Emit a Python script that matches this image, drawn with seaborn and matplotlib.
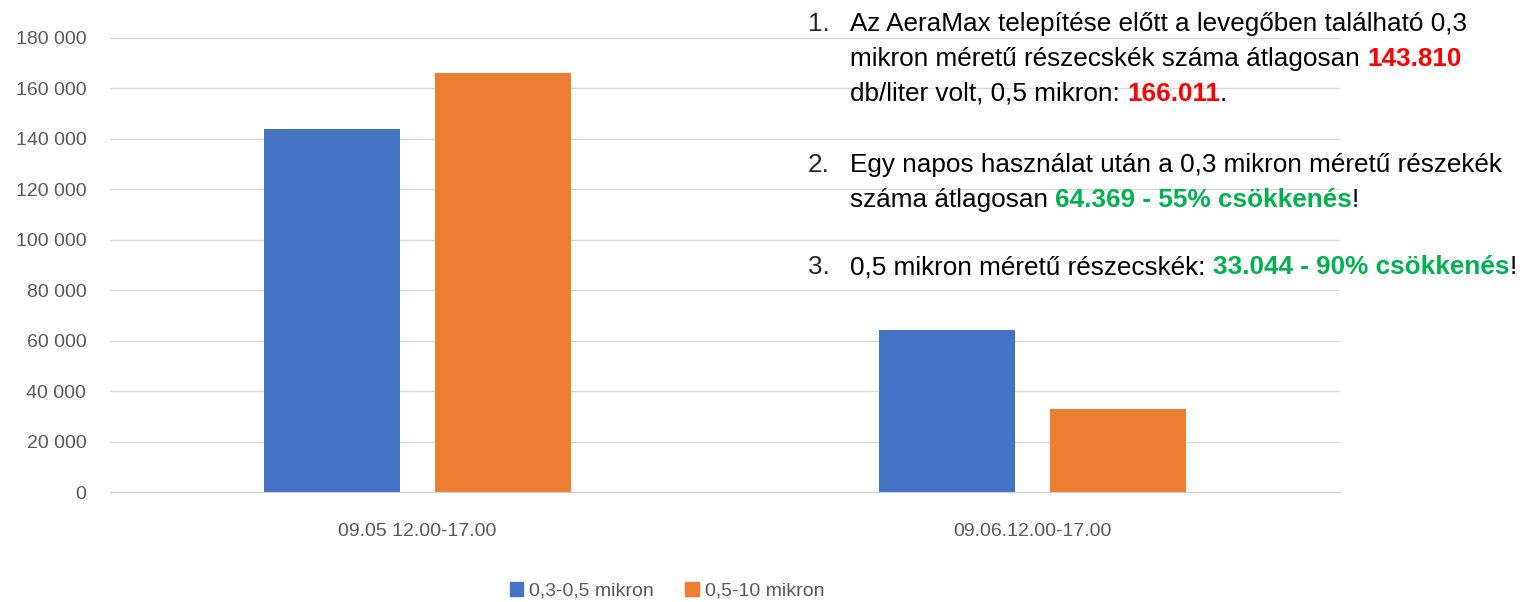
import numpy as np
import pandas as pd
import matplotlib
matplotlib.use("Agg")
import matplotlib.pyplot as plt
from matplotlib.ticker import FuncFormatter
from matplotlib.patches import Patch
import seaborn as sns

# adatok
kategoriak = ["09.05 12.00-17.00", "09.06.12.00-17.00"]
sorozatok = ["0,3-0,5 mikron", "0,5-10 mikron"]
ertek_03 = [143810, 64369]
ertek_05 = [166011, 33044]
szinek = ["#4472C4", "#ED7D31"]

veri = pd.DataFrame({
    "idopont": kategoriak * 2,
    "meret": [sorozatok[0]] * 2 + [sorozatok[1]] * 2,
    "darab": ertek_03 + ertek_05,
})

sns.set_style("white")
plt.rcParams["font.family"] = ["Liberation Sans", "DejaVu Sans"]
szurke = "#595959"

fig = plt.figure(figsize=(15.23, 6.02), dpi=100)
ax = fig.add_axes([0.0722, 0.1827, 0.8077, 0.7542])

sns.barplot(data=veri, x="idopont", y="darab", hue="meret",
            palette=szinek, saturation=1, width=0.556, gap=0.2,
            linewidth=0, ax=ax, legend=False)

ax.set_ylim(0, 180000)
ax.set_yticks(np.arange(0, 180001, 20000))
ax.yaxis.set_major_formatter(FuncFormatter(lambda v, p: f"{int(v):,}".replace(",", " ")))
ax.grid(axis="y", color="#D9D9D9", linewidth=1)
ax.set_axisbelow(True)
for s in ["top", "right", "left"]:
    ax.spines[s].set_visible(False)
ax.spines["bottom"].set_color("#D0D0D0")
ax.tick_params(axis="both", length=0, labelsize=14, colors=szurke)
ax.tick_params(axis="y", pad=17)
ax.tick_params(axis="x", pad=22)
ax.set_xlabel("")
ax.set_ylabel("")

fig.legend(handles=[Patch(color=szinek[0], label=sorozatok[0]),
                    Patch(color=szinek[1], label=sorozatok[1])],
           loc="center", bbox_to_anchor=(667 / 1523, 1 - 591 / 602), ncol=2,
           frameon=False, fontsize=14, labelcolor=szurke,
           handlelength=0.7, handleheight=0.7, handletextpad=0.3, columnspacing=1.6)

# szöveg jobbra fent
piros = "#FF0000"
zold = "#00B050"
fekete = "black"
sorok = [
    ("1.", [("Az AeraMax telepítése előtt a levegőben található 0,3", fekete, "normal")], 22),
    ("", [("mikron méretű részecskék száma átlagosan ", fekete, "normal"),
          ("143.810", piros, "bold")], 57),
    ("", [("db/liter volt, 0,5 mikron: ", fekete, "normal"),
          ("166.011", piros, "bold"), (".", fekete, "normal")], 92),
    ("2.", [("Egy napos használat után a 0,3 mikron méretű részekék", fekete, "normal")], 163),
    ("", [("száma átlagosan ", fekete, "normal"),
          ("64.369 - 55% csökkenés", zold, "bold"), ("!", fekete, "normal")], 198),
    ("3.", [("0,5 mikron méretű részecskék: ", fekete, "normal"),
            ("33.044 - 90% csökkenés", zold, "bold"), ("!", fekete, "normal")], 265),
]
meret = 18.8
for szam, reszek, y in sorok:
    yf = 1 - (y + 14) / 602
    if szam:
        fig.text(808 / 1523, yf, szam, fontsize=meret, va="bottom", ha="left")
    elozo = None
    for szoveg, szin, suly in reszek:
        if elozo is None:
            elozo = fig.text(850 / 1523, yf, szoveg, fontsize=meret, color=szin,
                             weight=suly, va="bottom", ha="left")
        else:
            elozo = ax.annotate(szoveg, xy=(1, 0), xycoords=elozo,
                                fontsize=meret, color=szin, weight=suly,
                                va="bottom", ha="left", annotation_clip=False)

fig.savefig("out.png", dpi=100)
